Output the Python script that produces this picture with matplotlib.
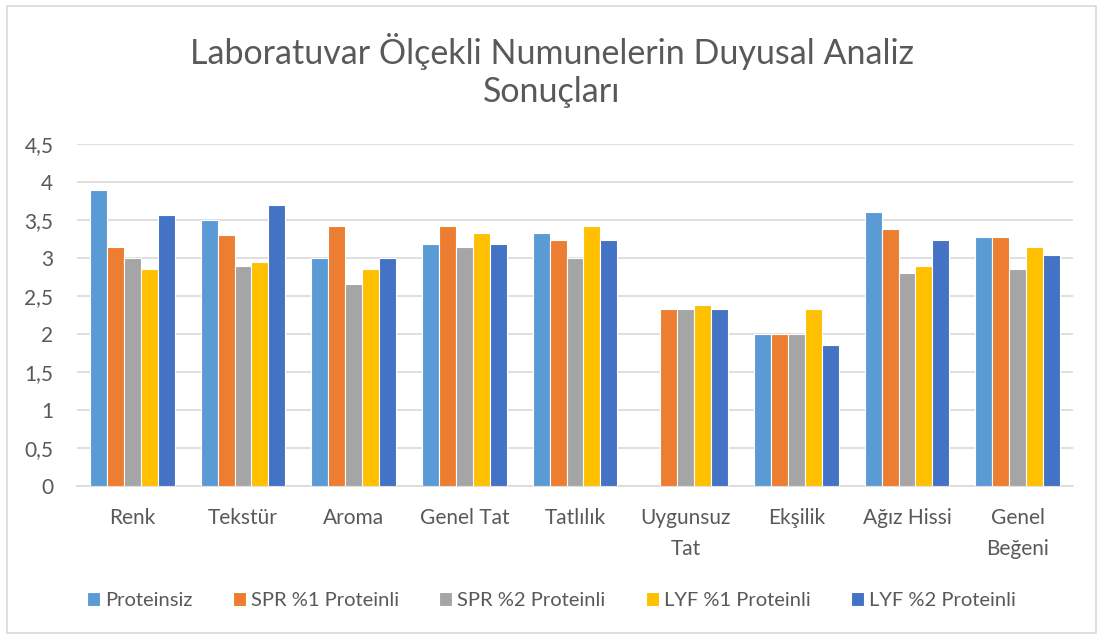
import numpy as np
import matplotlib.pyplot as plt
from matplotlib.patches import Rectangle

plt.rcParams['font.family'] = ['Lato', 'DejaVu Sans']

categories = ["Renk", "Tekstür", "Aroma", "Genel Tat", "Tatlılık",
              "Uygunsuz\nTat", "Ekşilik", "Ağız Hissi", "Genel\nBeğeni"]
series = ["Proteinsiz", "SPR %1 Proteinli", "SPR %2 Proteinli",
          "LYF %1 Proteinli", "LYF %2 Proteinli"]
proteinsiz = [3.89, 3.50, 3.00, 3.19, 3.33, 0.00, 2.00, 3.60, 3.28]
spr1 = [3.14, 3.30, 3.42, 3.42, 3.23, 2.33, 2.00, 3.38, 3.28]
spr2 = [3.00, 2.90, 2.66, 3.14, 3.00, 2.33, 2.00, 2.80, 2.85]
lyf1 = [2.85, 2.95, 2.85, 3.33, 3.42, 2.38, 2.33, 2.90, 3.14]
lyf2 = [3.57, 3.70, 3.00, 3.19, 3.23, 2.33, 1.85, 3.23, 3.04]
colors = ["#5B9BD5", "#ED7D31", "#A5A5A5", "#FFC000", "#4472C4"]
yticks = [0, 0.5, 1, 1.5, 2, 2.5, 3, 3.5, 4, 4.5]
ytick_labels = ["0", "0,5", "1", "1,5", "2", "2,5", "3", "3,5", "4", "4,5"]

text_color = "#595959"
fig = plt.figure(figsize=(11.03, 6.41), dpi=100)
ax = fig.add_axes([0.0698, 0.2418, 0.9030, 0.5336])

x = np.arange(len(categories))
w = 0.153
data = [proteinsiz, spr1, spr2, lyf1, lyf2]
for i, vals in enumerate(data):
    ax.bar(x + (i - 2) * w, vals, width=w, color=colors[i], label=series[i],
           edgecolor="white", linewidth=0.8, zorder=3)

ax.set_xlim(-0.5, len(categories) - 0.5)
ax.set_ylim(0, 4.5)
ax.set_yticks(yticks)
ax.set_yticklabels(ytick_labels)
ax.set_xticks(x)
ax.set_xticklabels(categories, linespacing=1.65)
ax.tick_params(axis="both", length=0, labelsize=15, colors=text_color)
ax.tick_params(axis="x", pad=16)
ax.tick_params(axis="y", pad=17)
ax.grid(axis="y", color="#D9D9D9", linewidth=1.2, zorder=0)
for s in ["top", "right", "left"]:
    ax.spines[s].set_visible(False)
ax.spines["bottom"].set_color("#D9D9D9")
ax.spines["bottom"].set_linewidth(1.2)

fig.text(0.5, 0.89, "Laboratuvar Ölçekli Numunelerin Duyusal Analiz\nSonuçları",
         ha="center", va="center", fontsize=24.5, color=text_color,
         linespacing=1.25)

ax.legend(loc="center", bbox_to_anchor=(0.5, 0.063), bbox_transform=fig.transFigure,
          ncol=5, frameon=False, fontsize=14.5, labelcolor=text_color,
          handlelength=0.65, handleheight=0.65, handletextpad=0.25, columnspacing=2.0)

fig.patches.append(Rectangle((0.006, 0.012), 0.988, 0.978, transform=fig.transFigure,
                             fill=False, edgecolor="#D9D9D9", linewidth=1.2))

fig.savefig("out.png", dpi=100)
